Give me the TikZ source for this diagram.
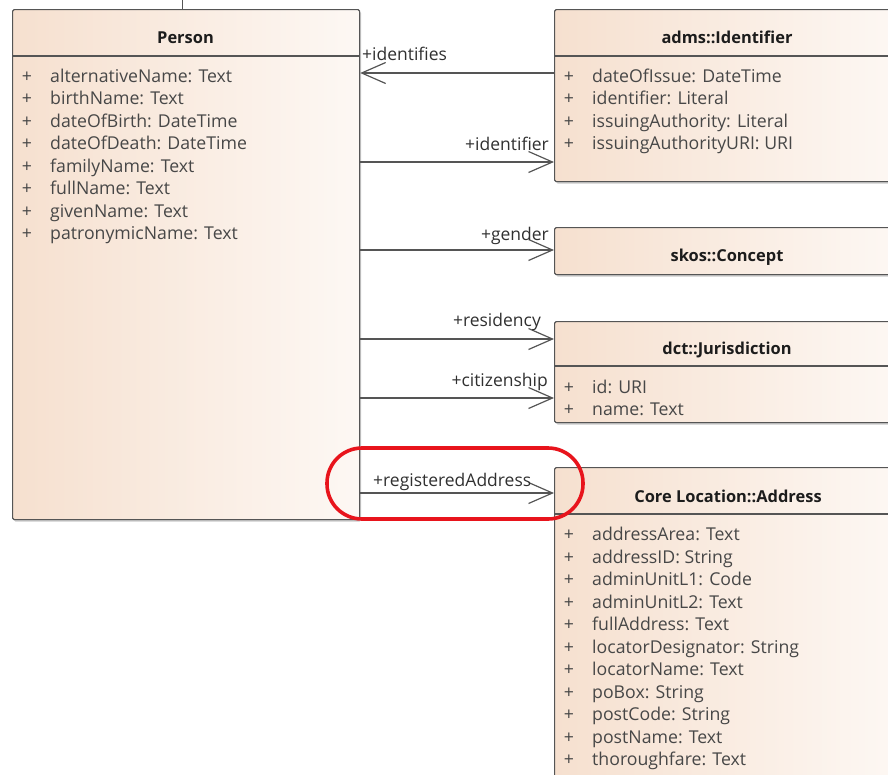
\documentclass[tikz,border=0pt]{standalone}
\usepackage{fontspec}
\setmainfont{Open Sans}
\usetikzlibrary{arrows.meta,calc,shadows}

\definecolor{boxleft}{HTML}{F6E0CF}
\definecolor{boxright}{HTML}{FDF8F4}
\definecolor{edgegray}{HTML}{555555}
\definecolor{attrgray}{HTML}{474747}
\definecolor{labelgray}{HTML}{303030}
\definecolor{headblack}{HTML}{1C1C1C}
\definecolor{markred}{HTML}{E8141C}

% font sizes chosen so that sample strings get a given width (in pt)
\newlength\probelen
\newcommand\fitsize[3]{%
  \settowidth\probelen{\fontsize{10pt}{12pt}\selectfont #2}%
  \pgfmathsetmacro#1{10*#3/\probelen}}
\AtBeginDocument{%
  \fitsize\attrsz{alternativeName: Text}{182}%
  \fitsize\rolesz{+registeredAddress}{158}%
  \fitsize\headsz{\bfseries adms::Identifier}{131}%
}
\newcommand\attrfont{\fontsize{\attrsz pt}{\attrsz pt}\selectfont}
\newcommand\rolefont{\fontsize{\rolesz pt}{\rolesz pt}\selectfont}
\newcommand\headfont{\fontsize{\headsz pt}{\headsz pt}\selectfont\bfseries}

\tikzset{
  classbox/.style={draw=edgegray, line width=1.2pt, rounded corners=1.5pt,
    left color=boxleft, right color=boxright, anchor=north west, inner sep=0pt,
    drop shadow={shadow xshift=1.5pt, shadow yshift=-2pt, opacity=0.3, fill=black!70}},
  sepline/.style={draw=edgegray, line width=1.2pt},
  % fixed row box: the node centre lies at the optical middle of each text line
  textrow/.style={inner sep=0pt, text height=16pt, text depth=1pt},
  classname/.style={textrow, font=\headfont, text=headblack},
  attr/.style={textrow, font=\attrfont, text=attrgray, anchor=west},
  plussign/.style={textrow, font=\attrfont, text=attrgray},
  rolelabel/.style={textrow, font=\rolefont, text=labelgray},
  assoc/.style={draw=edgegray, line width=1.2pt,
    -{Straight Barb[length=24pt, width=21pt, line width=1.2pt]}},
  highlight/.style={draw=markred, line width=3.6pt, rounded corners=35pt,
    minimum width=256pt, minimum height=71pt, inner sep=0pt},
}

\begin{document}
\begin{tikzpicture}[x=1pt, y=-1pt]
  \useasboundingbox (0,0) rectangle (888,774);
  \clip (0,0) rectangle (888,774);

  % ---- Person ----
  \coordinate (tick) at (182,0);
  \node[classbox, minimum width=347pt, minimum height=510pt] (person) at (12,9) {};
  \draw[draw=edgegray, line width=0.8pt] (tick) -- (tick |- person.north);
  \draw[sepline] (person.west |- 0,56) -- (person.east |- 0,56);
  \node[classname] (personname) at (185.5,36) {Person};
  \foreach \a [count=\i from 0] in {alternativeName: Text, birthName: Text,
      dateOfBirth: DateTime, dateOfDeath: DateTime, familyName: Text,
      fullName: Text, givenName: Text, patronymicName: Text} {
    \node[plussign] (pp\i) at (27,{74.8+22.5*\i}) {+};
    \node[attr] (pa\i) at (50,{74.8+22.5*\i}) {\a};
  }

  % ---- adms::Identifier ----
  \node[classbox, minimum width=346pt, minimum height=172pt] (adms) at (554,9) {};
  \draw[sepline] (adms.west |- 0,56) -- (adms.east |- 0,56);
  \node[classname] (admsname) at (727,36) {adms::Identifier};
  \foreach \a [count=\i from 0] in {dateOfIssue: DateTime, identifier: Literal,
      issuingAuthority: Literal, issuingAuthorityURI: URI} {
    \node[plussign] (ip\i) at (569,{74.8+22.5*\i}) {+};
    \node[attr] (ia\i) at (592,{74.8+22.5*\i}) {\a};
  }

  % ---- skos::Concept ----
  \node[classbox, minimum width=346pt, minimum height=47pt] (skos) at (554,227) {};
  \node[classname] (skosname) at (727,253.5) {skos::Concept};

  % ---- dct::Jurisdiction ----
  \node[classbox, minimum width=346pt, minimum height=101pt] (dct) at (554,321) {};
  \draw[sepline] (dct.west |- 0,366) -- (dct.east |- 0,366);
  \node[classname] (dctname) at (727,347) {dct::Jurisdiction};
  \foreach \a [count=\i from 0] in {id: URI, name: Text} {
    \node[plussign] (jp\i) at (569,{385.5+22.5*\i}) {+};
    \node[attr] (ja\i) at (592,{385.5+22.5*\i}) {\a};
  }

  % ---- Core Location::Address ----
  \node[classbox, minimum width=346pt, minimum height=340pt] (addr) at (554,467) {};
  \draw[sepline] (addr.west |- 0,514) -- (addr.east |- 0,514);
  \node[classname] (addrname) at (728,495) {Core Location::Address};
  \foreach \a [count=\i from 0] in {addressArea: Text, addressID: String,
      adminUnitL1: Code, adminUnitL2: Text, fullAddress: Text,
      locatorDesignator: String, locatorName: Text, poBox: String,
      postCode: String, postName: Text, thoroughfare: Text} {
    \node[plussign] (ap\i) at (569,{533+22.5*\i}) {+};
    \node[attr] (aa\i) at (592,{533+22.5*\i}) {\a};
  }

  % ---- associations ----
  \draw[assoc] (adms.west |- 0,73) -- (person.east |- 0,73);
  \node[rolelabel, anchor=west] (lidentifies) at (362,53) {+identifies};

  \draw[assoc] (person.east |- 0,162) -- (adms.west |- 0,162);
  \node[rolelabel, anchor=east] (lidentifier) at (549,143) {+identifier};

  \draw[assoc] (person.east |- 0,250) -- (skos.west |- 0,250);
  \node[rolelabel, anchor=east] (lgender) at (549,233) {+gender};

  \draw[assoc] (person.east |- 0,339) -- (dct.west |- 0,339);
  \node[rolelabel, anchor=east] (lresidency) at (541,319) {+residency};

  \draw[assoc] (person.east |- 0,398) -- (dct.west |- 0,398);
  \node[rolelabel, anchor=east] (lcitizenship) at (548,379) {+citizenship};

  \draw[assoc] (person.east |- 0,493) -- (addr.west |- 0,493);
  \node[rolelabel, anchor=west] (lregistered) at (373,479) {+registeredAddress};

  % ---- red emphasis around the registeredAddress role ----
  \node[highlight] (mark) at (455,483.5) {};
\end{tikzpicture}
\end{document}
